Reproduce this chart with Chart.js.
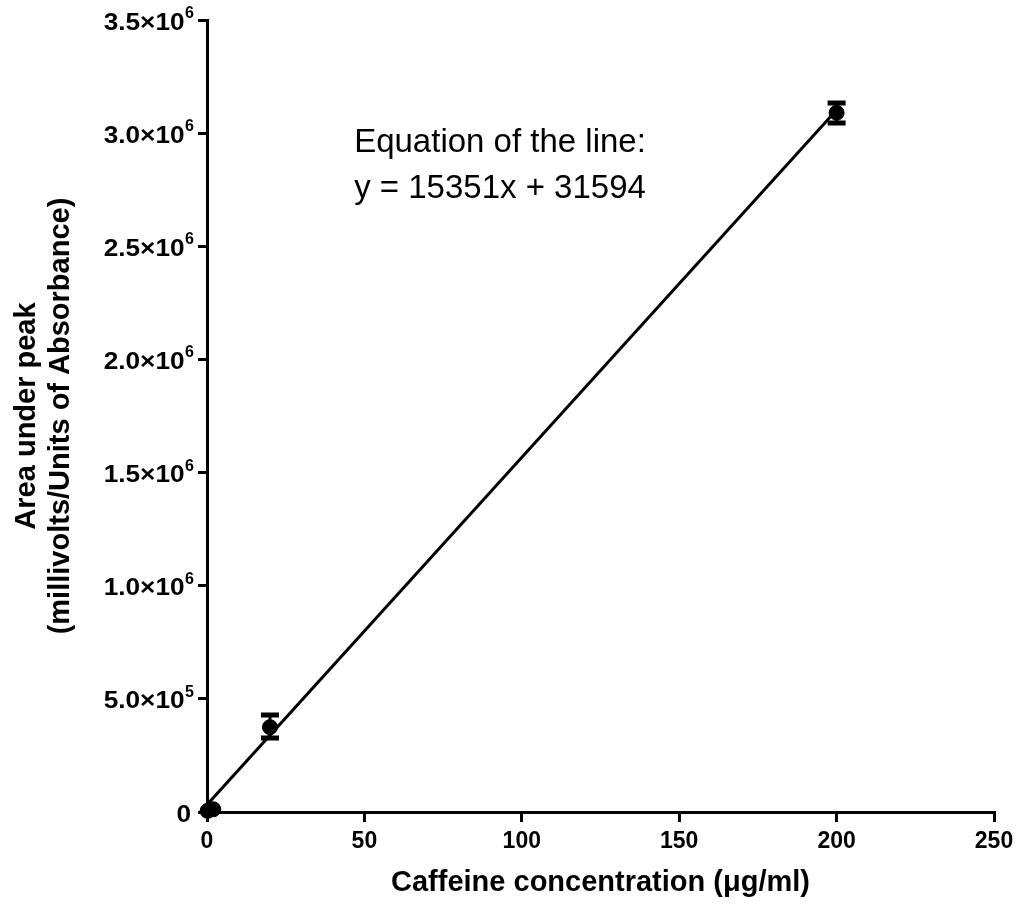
<!DOCTYPE html>
<html>
<head>
<meta charset="utf-8">
<script src="https://cdn.jsdelivr.net/npm/chart.js@4"></script>
<style>
html,body{margin:0;padding:0;background:#fff;}
#wrap{width:1021px;height:904px;}
</style>
</head>
<body>
<div id="wrap"><canvas id="c" width="1021" height="904"></canvas></div>
<script>
// Data
const concentrations = [0.2, 2, 20, 200];
const meanArea = [5000, 12000, 375000, 3090000];
const errLow = [0, 5000, 327000, 3045000];
const errHigh = [10000, 20000, 429000, 3133000];
const fitX = [0, 200];
const fitY = [31594, 3101794];
const yTickValues = [0, 500000, 1000000, 1500000, 2000000, 2500000, 3000000, 3500000];
const yTickMantissa = ['0', '5.0×10', '1.0×10', '1.5×10', '2.0×10', '2.5×10', '3.0×10', '3.5×10'];
const yTickExponent = ['', '5', '6', '6', '6', '6', '6', '6'];
const xTickValues = [0, 50, 100, 150, 200, 250];
const equationLines = ['Equation of the line:', 'y = 15351x + 31594'];
const xTitle = 'Caffeine concentration (μg/ml)';
const yTitle = ['Area under peak', '(millivolts/Units of Absorbance)'];

const FONT = "'Liberation Sans', Arial, sans-serif";

const errorBarPlugin = {
  id: 'errorBars',
  afterDatasetsDraw(chart) {
    const ctx = chart.ctx;
    const xs = chart.scales.x, ys = chart.scales.y;
    ctx.save();
    ctx.strokeStyle = '#000';
    for (let i = 0; i < concentrations.length; i++) {
      const px = xs.getPixelForValue(concentrations[i]);
      const pLo = ys.getPixelForValue(errLow[i]);
      const pHi = ys.getPixelForValue(errHigh[i]);
      if (Math.abs(pLo - pHi) < 6) continue;
      ctx.lineWidth = 3;
      ctx.beginPath();
      ctx.moveTo(px, pLo); ctx.lineTo(px, pHi); ctx.stroke();
      ctx.lineWidth = 5;
      ctx.beginPath();
      ctx.moveTo(px - 9, pLo); ctx.lineTo(px + 9, pLo);
      ctx.moveTo(px - 9, pHi); ctx.lineTo(px + 9, pHi);
      ctx.stroke();
    }
    ctx.restore();
  }
};

const yLabelPlugin = {
  id: 'yLabels',
  afterDraw(chart) {
    const ctx = chart.ctx;
    const ys = chart.scales.y;
    const sx = 1.14;
    ctx.save();
    ctx.fillStyle = '#000';
    ctx.textBaseline = 'alphabetic';
    ctx.textAlign = 'right';
    for (let i = 0; i < yTickValues.length; i++) {
      const py = ys.getPixelForValue(yTickValues[i]);
      const base = py + 9.5;
      let right = yTickExponent[i] ? 194 : 191;
      if (yTickExponent[i]) {
        ctx.font = "bold 16px " + FONT;
        ctx.fillText(yTickExponent[i], right, base - 11.5);
        right -= ctx.measureText(yTickExponent[i]).width + 0.5;
      }
      ctx.font = "bold 23px " + FONT;
      ctx.save();
      ctx.translate(right, base);
      ctx.scale(sx, 1);
      ctx.fillText(yTickMantissa[i], 0, 0);
      ctx.restore();
    }
    ctx.restore();
  }
};

const annotationPlugin = {
  id: 'equation',
  afterDraw(chart) {
    const ctx = chart.ctx;
    ctx.save();
    ctx.fillStyle = '#000';
    ctx.font = "33px " + FONT;
    ctx.textAlign = 'center';
    ctx.textBaseline = 'alphabetic';
    ctx.fillText(equationLines[0], 500, 152);
    ctx.fillText(equationLines[1], 500, 198);
    ctx.restore();
  }
};

new Chart(document.getElementById('c'), {
  type: 'scatter',
  data: {
    datasets: [
      {
        label: 'Fit',
        data: fitX.map((x, i) => ({x: x, y: fitY[i]})),
        showLine: true,
        borderColor: '#000',
        borderWidth: 3,
        pointRadius: 0,
        fill: false,
        clip: false,
        order: 2
      },
      {
        label: 'Mean',
        data: concentrations.map((x, i) => ({x: x, y: meanArea[i]})),
        backgroundColor: '#000',
        borderColor: '#000',
        pointRadius: 7.5,
        pointHoverRadius: 7.5,
        clip: false,
        order: 1
      }
    ]
  },
  options: {
    responsive: false,
    animation: false,
    events: [],
    layout: { padding: { top: 20, right: 27, left: 0, bottom: 0 } },
    plugins: { legend: { display: false }, tooltip: { enabled: false } },
    scales: {
      x: {
        type: 'linear',
        min: 0, max: 250,
        afterFit(scale) { scale.height = 92; },
        afterBuildTicks(scale) { scale.ticks = xTickValues.map(v => ({value: v})); },
        border: { display: true, color: '#000', width: 3 },
        grid: { display: true, drawOnChartArea: false, drawTicks: true, tickLength: 10, color: '#000', lineWidth: 3 },
        ticks: {
          color: '#000',
          font: { family: FONT, size: 23, weight: 'bold' },
          padding: 6,
          maxRotation: 0,
          callback: (v) => String(v)
        },
        title: {
          display: true,
          text: xTitle,
          color: '#000',
          font: { family: FONT, size: 29, weight: 'bold' },
          padding: { top: 0, bottom: 4 }
        }
      },
      y: {
        type: 'linear',
        min: 0, max: 3500000,
        afterFit(scale) { scale.width = 207; },
        afterBuildTicks(scale) { scale.ticks = yTickValues.map(v => ({value: v})); },
        border: { display: true, color: '#000', width: 3 },
        grid: { display: true, drawOnChartArea: false, drawTicks: true, tickLength: 9, color: '#000', lineWidth: 3 },
        ticks: {
          color: '#000',
          font: { family: FONT, size: 23, weight: 'bold' },
          padding: 5,
          callback: () => ''
        },
        title: {
          display: true,
          text: yTitle,
          color: '#000',
          font: { family: FONT, size: 29, weight: 'bold', lineHeight: 1.17 },
          padding: { top: 10, bottom: 0 }
        }
      }
    }
  },
  plugins: [errorBarPlugin, yLabelPlugin, annotationPlugin]
});
</script>
</body>
</html>
